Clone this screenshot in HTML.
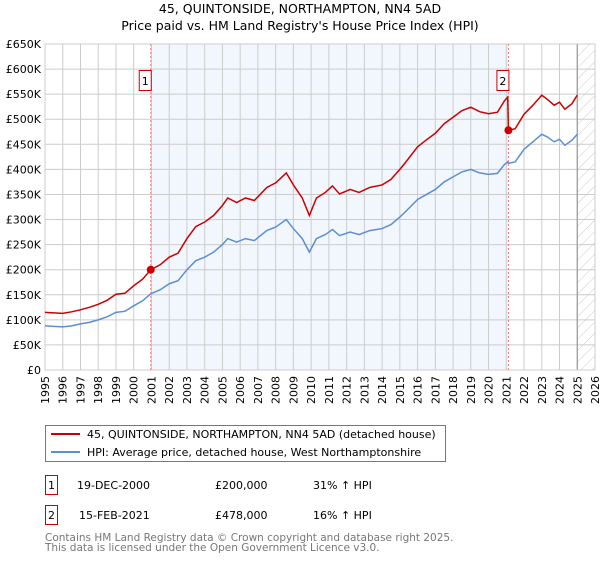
<!DOCTYPE html>
<html><head><meta charset="utf-8"><style>
body{margin:0;background:#fff;font-family:"Liberation Sans","DejaVu Sans",sans-serif;}
</style></head><body>
<svg width="600" height="560" viewBox="0 0 600 560" xmlns="http://www.w3.org/2000/svg" font-family="DejaVu Sans, Liberation Sans, sans-serif">
<defs><pattern id="hatch" width="8" height="8" patternUnits="userSpaceOnUse" patternTransform="rotate(45)"><line x1="0" y1="0" x2="0" y2="8" stroke="#ccc" stroke-width="1"/></pattern></defs>
<text x="300" y="13" text-anchor="middle" font-size="12.5">45, QUINTONSIDE, NORTHAMPTON, NN4 5AD</text>
<text x="300" y="30" text-anchor="middle" font-size="12.5">Price paid vs. HM Land Registry's House Price Index (HPI)</text>
<g id="plot"></g>
<g>
<rect x="45.5" y="425.5" width="400" height="36" fill="#fff" stroke="#777"/>
<line x1="51" y1="434" x2="80" y2="434" stroke="#cc0000" stroke-width="2"/>
<text x="87" y="438" font-size="11">45, QUINTONSIDE, NORTHAMPTON, NN4 5AD (detached house)</text>
<line x1="51" y1="452" x2="80" y2="452" stroke="#5b8fd4" stroke-width="2"/>
<text x="87" y="456" font-size="11">HPI: Average price, detached house, West Northamptonshire</text>
</g>
<g font-size="11">
<rect x="45.5" y="475.5" width="12" height="19" fill="#fff" stroke="#cc0000"/>
<text x="51.5" y="489" text-anchor="middle">1</text>
<text x="77" y="489">19-DEC-2000</text><text x="215" y="489">£200,000</text><text x="313" y="489">31% ↑ HPI</text>
<rect x="45.5" y="505.5" width="12" height="19" fill="#fff" stroke="#cc0000"/>
<text x="51.5" y="519" text-anchor="middle">2</text>
<text x="79" y="519">15-FEB-2021</text><text x="215" y="519">£478,000</text><text x="313" y="519">16% ↑ HPI</text>
</g>
<g font-size="10.5" fill="#777">
<text x="45" y="541">Contains HM Land Registry data © Crown copyright and database right 2025.</text>
<text x="45" y="551">This data is licensed under the Open Government Licence v3.0.</text>
</g>
</svg>
<script>
const dates=[1995.0,1995.5,1996.0,1996.5,1997.0,1997.5,1998.0,1998.5,1999.0,1999.5,2000.0,2000.5,2000.96,2001.5,2002.0,2002.5,2003.0,2003.5,2004.0,2004.5,2005.0,2005.3,2005.8,2006.3,2006.8,2007.5,2008.0,2008.6,2009.0,2009.5,2009.9,2010.3,2010.8,2011.2,2011.6,2012.2,2012.7,2013.3,2014.0,2014.5,2015.0,2015.3,2016.0,2016.5,2017.0,2017.5,2018.0,2018.5,2019.0,2019.5,2020.0,2020.5,2020.9,2021.08,2021.12,2021.5,2022.0,2022.5,2023.0,2023.3,2023.7,2024.0,2024.3,2024.7,2025.0];
const hpiValues=[88,87,86,88,92,95,100,106,115,117,128,138,152,160,172,178,200,218,225,235,250,262,255,262,258,278,285,300,282,262,235,262,270,280,268,275,270,278,282,290,305,315,340,350,360,375,385,395,400,393,390,392,410,415,412,415,440,455,470,465,455,460,448,458,470];
const priceValues=[115,114,113,116,120,125,131,139,151,153,168,181,200,210,225,233,262,286,295,308,328,343,334,343,338,364,373,393,369,343,308,343,354,367,351,360,354,364,369,380,400,413,445,459,472,491,504,517,524,515,511,514,537,544,478,481,510,528,548,540,528,534,520,531,548];
const saleDates=[2000.96,2021.12];
const salePrices=[200,478];
const saleLabels=["1","2"];
const yTicks=[0,50,100,150,200,250,300,350,400,450,500,550,600,650];
const xYears=[1995,1996,1997,1998,1999,2000,2001,2002,2003,2004,2005,2006,2007,2008,2009,2010,2011,2012,2013,2014,2015,2016,2017,2018,2019,2020,2021,2022,2023,2024,2025,2026];
const X0=45,X1=595,Y0=370,Y1=44;
const sx=v=>X0+(v-1995)/31*(X1-X0);
const sy=v=>Y0-v/650*(Y0-Y1);
const NS="http://www.w3.org/2000/svg";
const g=document.getElementById('plot');
function mk(t,a){const e=document.createElementNS(NS,t);for(const k in a)e.setAttribute(k,a[k]);g.appendChild(e);return e;}
let e;
e=mk('rect',{x:sx(saleDates[0]),y:Y1,width:sx(saleDates[1])-sx(saleDates[0]),height:Y0-Y1,fill:'#f2f6fd'});


e=mk('rect',{x:sx(2025),y:Y1,width:X1-sx(2025),height:Y0-Y1,fill:'url(#hatch)'});


yTicks.forEach(t=>{
 e=mk('line',{x1:X0,x2:X1,y1:sy(t),y2:sy(t),stroke:'#ccc','stroke-width':1});
 
 
 e=mk('text',{x:X0-4,y:sy(t)+4,'text-anchor':'end','font-size':11});
 e.textContent=t===0?'£0':'£'+t+'K';
 
 
});
xYears.forEach(y=>{
 e=mk('line',{x1:sx(y),x2:sx(y),y1:Y1,y2:Y0,stroke:'#ccc','stroke-width':1});
 
 
 e=mk('text',{x:0,y:0,'text-anchor':'end','font-size':11,transform:`translate(${sx(y)+4},${Y0+6}) rotate(-90)`});
 e.textContent=y;
 
 
});
e=mk('line',{x1:sx(2025),x2:sx(2025),y1:Y1,y2:Y0,stroke:'#999','stroke-width':1.2});


e=mk('rect',{x:X0,y:Y1,width:X1-X0,height:Y0-Y1,fill:'none',stroke:'#ccc'});


saleDates.forEach((d,i)=>{
 e=mk('line',{x1:sx(d),x2:sx(d),y1:Y1,y2:Y0,stroke:'#f08080','stroke-width':1,'stroke-dasharray':'2,2'});
 
 
});
e=mk('polyline',{points:dates.map((d,i)=>sx(d)+','+sy(hpiValues[i])).join(' '),fill:'none',stroke:'#5b8fd4','stroke-width':1.5});


e=mk('polyline',{points:dates.map((d,i)=>sx(d)+','+sy(priceValues[i])).join(' '),fill:'none',stroke:'#cc0000','stroke-width':1.5});


saleDates.forEach((d,i)=>{
 e=mk('circle',{cx:sx(d),cy:sy(salePrices[i]),r:4,fill:'#cc0000'});
 
 
 e=mk('rect',{x:sx(d)-11.5,y:70.5,width:12,height:20,fill:'#fff',stroke:'#cc0000'});
 
 
 e=mk('text',{x:sx(d)-5.5,y:85,'text-anchor':'middle','font-size':11});
 e.textContent=saleLabels[i];
 
 
});
</script>
</body></html>
